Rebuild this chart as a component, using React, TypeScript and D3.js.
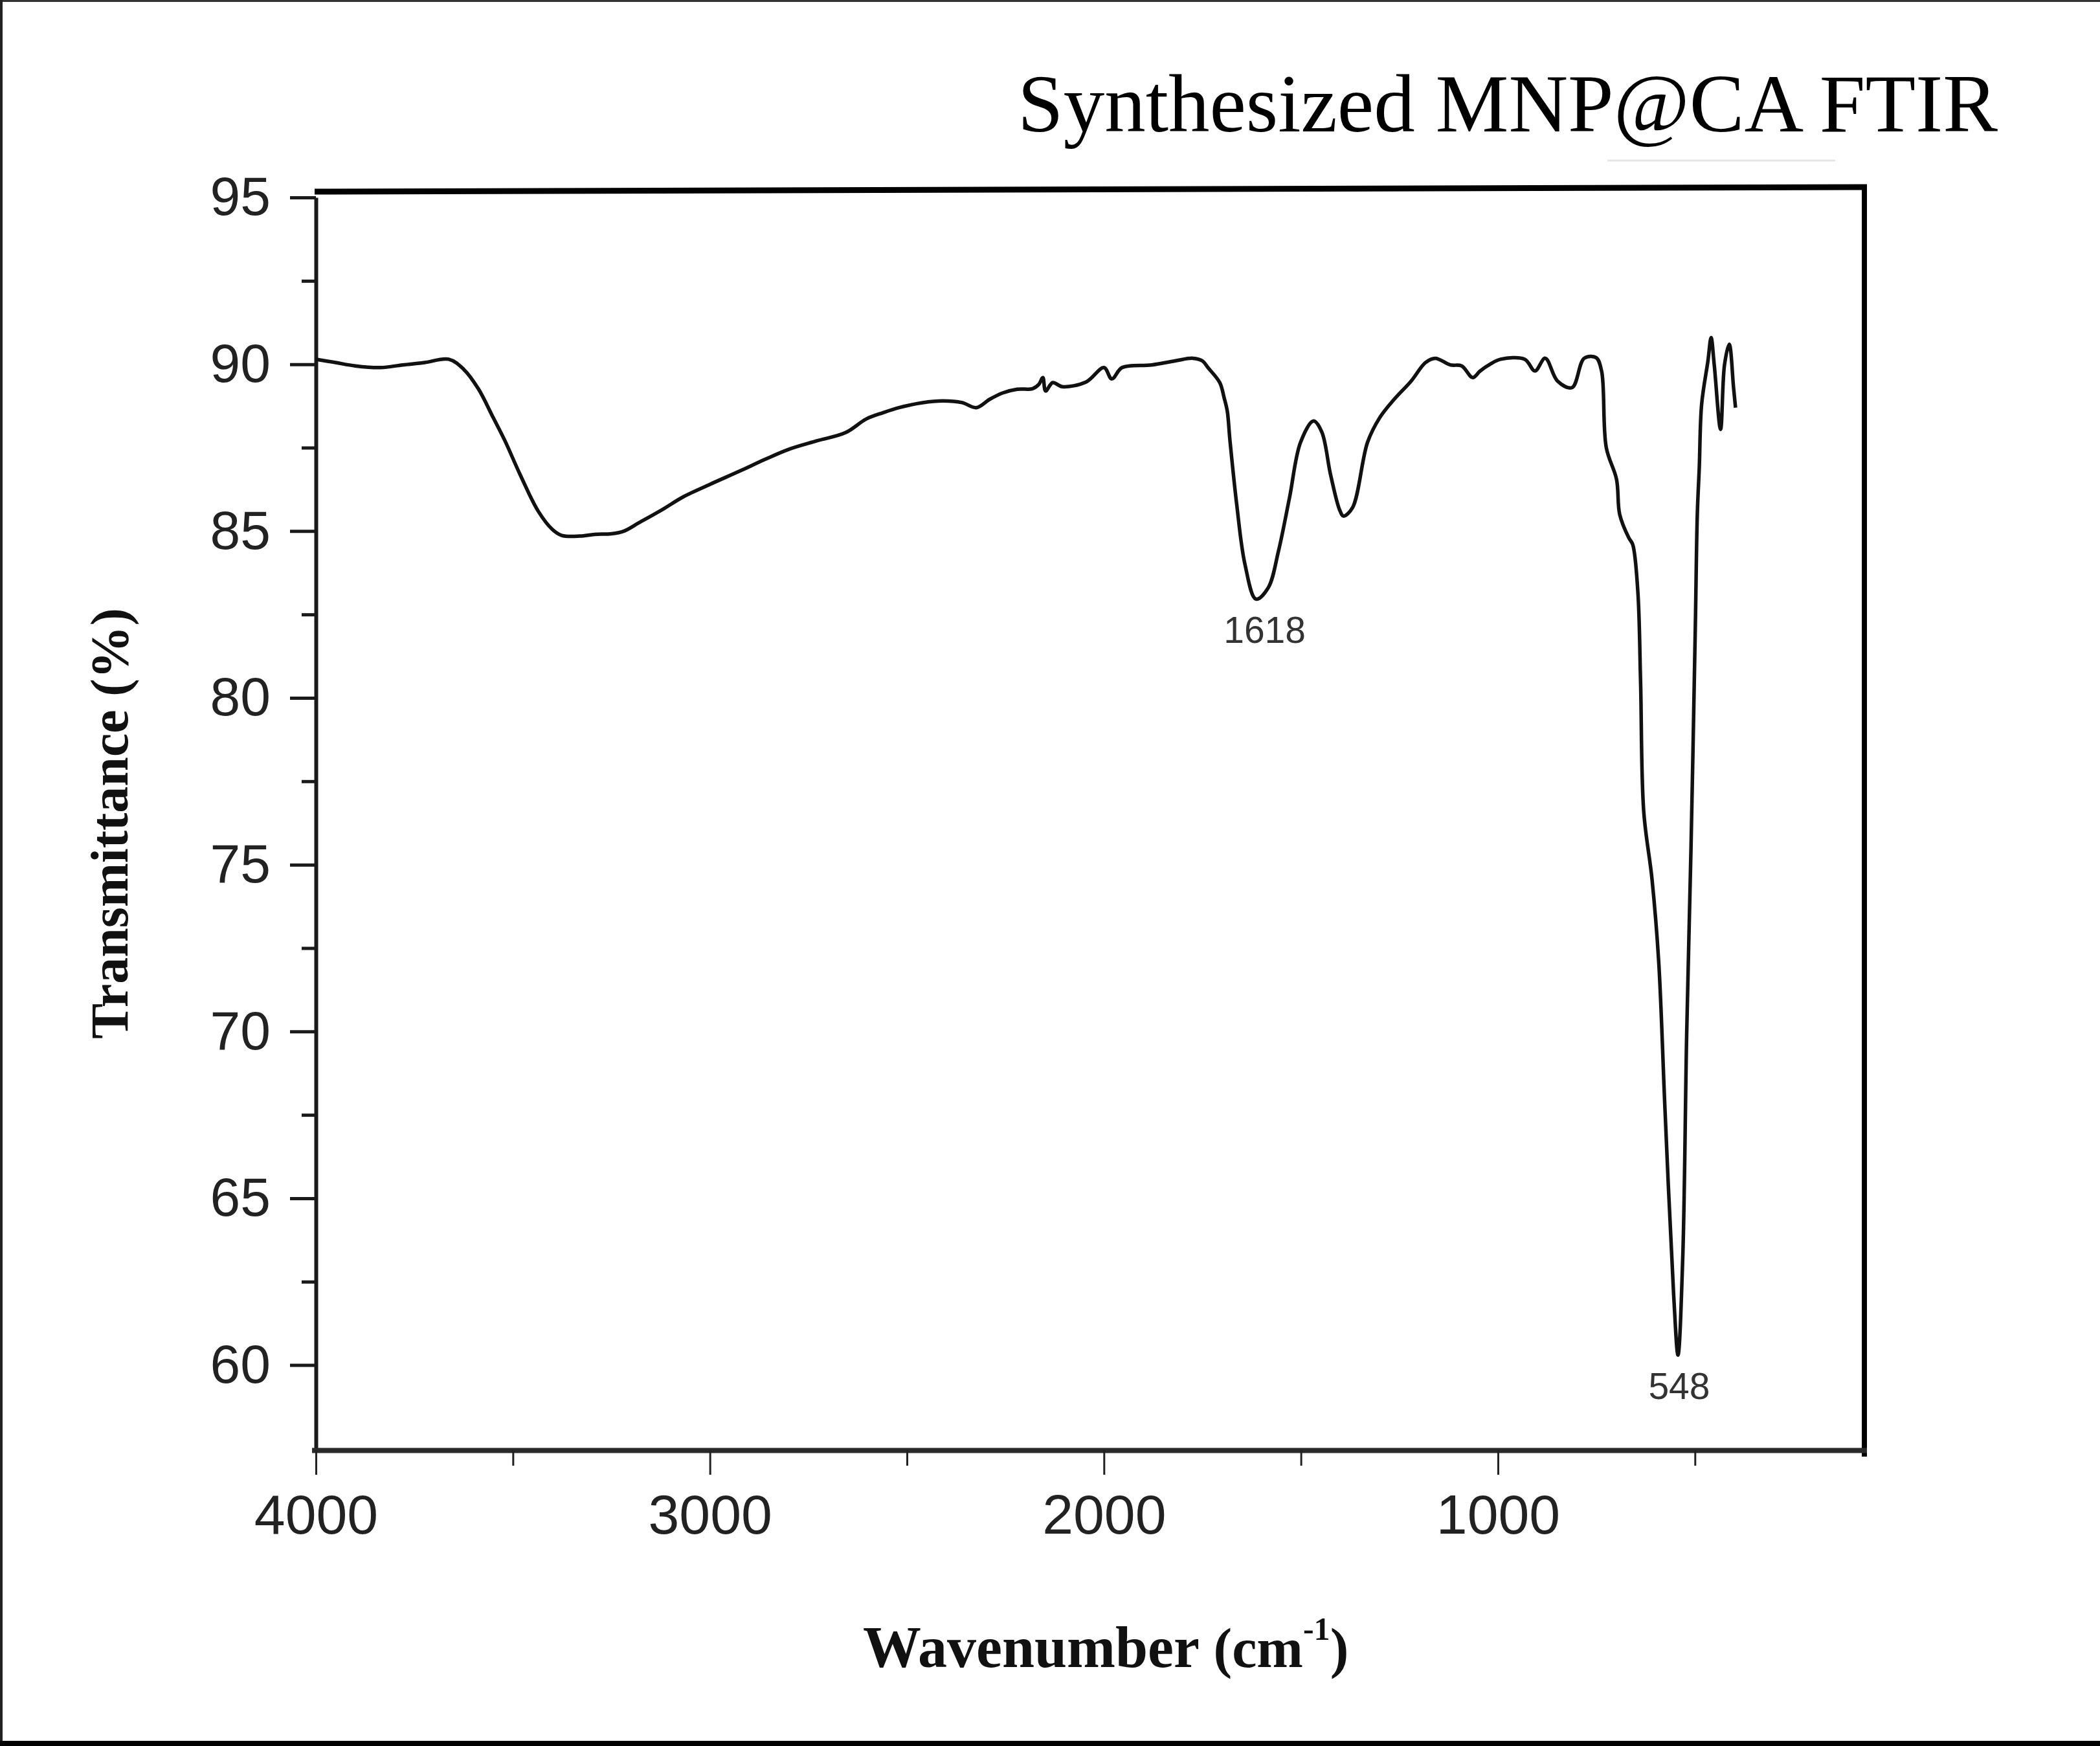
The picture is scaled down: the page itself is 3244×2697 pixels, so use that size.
import React, { useRef, useEffect } from "react";
import * as d3 from "d3";

// FTIR spectrum (wavenumber in cm-1, transmittance in %)
const wavenumbers = [
  4000, 3950, 3900, 3836, 3780, 3724, 3663, 3625, 3588, 3550, 3520, 3482, 3436, 3400, 3376,
  3330, 3293, 3250, 3218, 3180, 3120, 3067, 3000, 2924, 2860, 2800, 2730, 2656, 2603, 2560,
  2520, 2460, 2408, 2360, 2324, 2290, 2257, 2220, 2181, 2165, 2155, 2148, 2130, 2106, 2045,
  2000, 1980, 1954, 1879, 1820, 1774, 1750, 1736, 1706, 1695, 1687, 1680, 1663, 1642,
  1614, 1583, 1557, 1529, 1501, 1468, 1447, 1425, 1402, 1392, 1369, 1331, 1300, 1264, 1220,
  1184, 1159, 1121, 1092, 1064, 1045, 1020, 993, 932, 906, 880, 849, 812, 781, 751,
  737, 725, 699, 691, 668, 658, 645, 638, 630, 609, 592, 576, 554, 543, 531,
  521, 510, 499, 494, 489, 483, 467, 459, 451, 435, 425, 413, 402, 397,
];
const transmittance = [
  90.15, 90.05, 89.95, 89.9, 89.98, 90.05, 90.15, 89.85, 89.27, 88.4, 87.7, 86.7, 85.6, 85.05, 84.87,
  84.85, 84.9, 84.92, 85.0, 85.25, 85.65, 86.03, 86.4, 86.8, 87.15, 87.45, 87.7, 87.95, 88.36, 88.55,
  88.7, 88.85, 88.9, 88.85, 88.7, 88.95, 89.14, 89.25, 89.27, 89.4, 89.6, 89.2, 89.45, 89.33, 89.47,
  89.9, 89.56, 89.9, 89.98, 90.1, 90.18, 90.1, 89.9, 89.45, 89.0, 88.6, 87.7, 85.8, 84.0,
  82.96, 83.3, 84.4, 86.0, 87.66, 88.3, 87.97, 86.7, 85.64, 85.45, 85.7, 87.66, 88.4, 88.94, 89.5,
  90.05, 90.18, 89.98, 89.95, 89.6, 89.8, 90.0, 90.15, 90.15, 89.8, 90.18, 89.5, 89.3, 90.18, 90.2,
  89.8, 87.5, 86.55, 85.5, 84.8, 84.6, 83.2, 80.5, 76.6, 74.57, 72.1, 67.66, 62.1, 60.3, 63.2,
  69.9, 75.5, 82.15, 85.5, 86.9, 88.8, 90.1, 90.8, 89.98, 88.05, 89.98, 90.6, 89.3, 88.7,
];

const yTicks = [60, 65, 70, 75, 80, 85, 90, 95];
const yMinorTicks = [62.5, 67.5, 72.5, 77.5, 82.5, 87.5, 92.5];
const xTicks = [4000, 3000, 2000, 1000];
const xMinorTicks = [3500, 2500, 1500, 500];

const peakLabels = ["1618", "548"];
const peakWavenumbers = [1592, 540];
const peakMinima = [82.96, 60.3];

const W = 3244;
const H = 2697;

const App = () => {
  const svgRef = useRef(null);

  useEffect(() => {
    const svg = d3.select(svgRef.current);
    svg.selectAll("*").remove();

    const x = d3.scaleLinear().domain([4000, 70]).range([488, 2880]);
    const y = d3.scaleLinear().domain([57.45, 95]).range([2240, 305]);

    const sans = "'Liberation Sans', Arial, Helvetica, sans-serif";
    const serif = "'Liberation Serif', 'Times New Roman', Times, serif";

    svg.append("rect").attr("width", W).attr("height", H).attr("fill", "#fff");

    // outer frame of the picture (top, left, bottom)
    svg.append("line").attr("x1", 0).attr("x2", W).attr("y1", 1.5).attr("y2", 1.5)
      .attr("stroke", "#333").attr("stroke-width", 3);
    svg.append("line").attr("x1", 2).attr("x2", 2).attr("y1", 0).attr("y2", H)
      .attr("stroke", "#222").attr("stroke-width", 4);
    svg.append("line").attr("x1", 0).attr("x2", W).attr("y1", H - 4).attr("y2", H - 4)
      .attr("stroke", "#000").attr("stroke-width", 8);

    // title
    svg.append("text")
      .attr("x", 1572).attr("y", 203)
      .attr("font-family", serif).attr("font-size", 127)
      .attr("fill", "#000")
      .text("Synthesized MNP@CA FTIR");
    svg.append("line").attr("x1", 2483).attr("x2", 2835).attr("y1", 248).attr("y2", 248)
      .attr("stroke", "#e6e6e6").attr("stroke-width", 3);

    // box top and right
    svg.append("line").attr("x1", 486).attr("x2", 2884).attr("y1", 296).attr("y2", 289)
      .attr("stroke", "#000").attr("stroke-width", 9);
    svg.append("line").attr("x1", 2880).attr("x2", 2880).attr("y1", 285).attr("y2", 2250)
      .attr("stroke", "#000").attr("stroke-width", 8);

    // y axis
    const yAxis = svg.append("g")
      .attr("transform", "translate(488,0)")
      .call(d3.axisLeft(y).tickValues(yTicks).tickSize(40).tickSizeOuter(0).tickPadding(30));
    yAxis.select(".domain").attr("stroke", "#1a1a1a").attr("stroke-width", 6);
    yAxis.selectAll(".tick line").attr("stroke", "#1a1a1a").attr("stroke-width", 5);
    yAxis.selectAll(".tick text")
      .attr("font-family", sans).attr("font-size", 84).attr("fill", "#222");

    const yMinor = svg.append("g")
      .attr("transform", "translate(488,0)")
      .call(d3.axisLeft(y).tickValues(yMinorTicks).tickSize(22).tickSizeOuter(0).tickFormat(() => ""));
    yMinor.select(".domain").remove();
    yMinor.selectAll(".tick line").attr("stroke", "#1a1a1a").attr("stroke-width", 5);

    // x axis
    const xAxis = svg.append("g")
      .attr("transform", "translate(0,2240)")
      .call(d3.axisBottom(x).tickValues(xTicks).tickSize(38).tickSizeOuter(0).tickPadding(30)
        .tickFormat(d3.format("d")));
    xAxis.select(".domain").attr("stroke", "#2a2a2a").attr("stroke-width", 8)
      .attr("d", "M482,0.5H2884");
    xAxis.selectAll(".tick line").attr("stroke", "#222").attr("stroke-width", 3);
    xAxis.selectAll(".tick text")
      .attr("font-family", sans).attr("font-size", 86).attr("fill", "#222");

    const xMinor = svg.append("g")
      .attr("transform", "translate(0,2240)")
      .call(d3.axisBottom(x).tickValues(xMinorTicks).tickSize(24).tickSizeOuter(0).tickFormat(() => ""));
    xMinor.select(".domain").remove();
    xMinor.selectAll(".tick line").attr("stroke", "#222").attr("stroke-width", 3);

    // spectrum
    const points = wavenumbers.map((w, i) => [w, transmittance[i]]);
    const line = d3.line()
      .x((d) => x(d[0]))
      .y((d) => y(d[1]))
      .curve(d3.curveCatmullRom.alpha(0.5));
    svg.append("path")
      .datum(points)
      .attr("d", line)
      .attr("fill", "none")
      .attr("stroke", "#111")
      .attr("stroke-width", 5.5)
      .attr("stroke-linejoin", "round");

    // peak labels
    svg.selectAll(".peak")
      .data(peakLabels)
      .enter()
      .append("text")
      .attr("class", "peak")
      .attr("x", (d, i) => x(peakWavenumbers[i]))
      .attr("y", (d, i) => y(peakMinima[i]) + 68)
      .attr("text-anchor", "middle")
      .attr("font-family", sans).attr("font-size", 57).attr("fill", "#333")
      .text((d) => d);

    // axis titles
    svg.append("text")
      .attr("transform", "translate(197,1272) rotate(-90)")
      .attr("text-anchor", "middle")
      .attr("font-family", serif).attr("font-weight", "bold").attr("font-size", 82)
      .attr("fill", "#111")
      .text("Transmittance (%)");

    const xt = svg.append("text")
      .attr("x", 1333).attr("y", 2575)
      .attr("font-family", serif).attr("font-weight", "bold").attr("fill", "#111");
    xt.append("tspan").attr("font-size", 90).text("Wavenumber");
    xt.append("tspan").attr("font-size", 86).text(" (cm");
    xt.append("tspan").attr("font-size", 50).attr("dy", -42).text("-1");
    xt.append("tspan").attr("font-size", 86).attr("dy", 42).text(")");
  }, []);

  return (
    <svg
      ref={svgRef}
      width={W}
      height={H}
      style={{ position: "absolute", left: 0, top: 0, display: "block" }}
    ></svg>
  );
};

export default App;
